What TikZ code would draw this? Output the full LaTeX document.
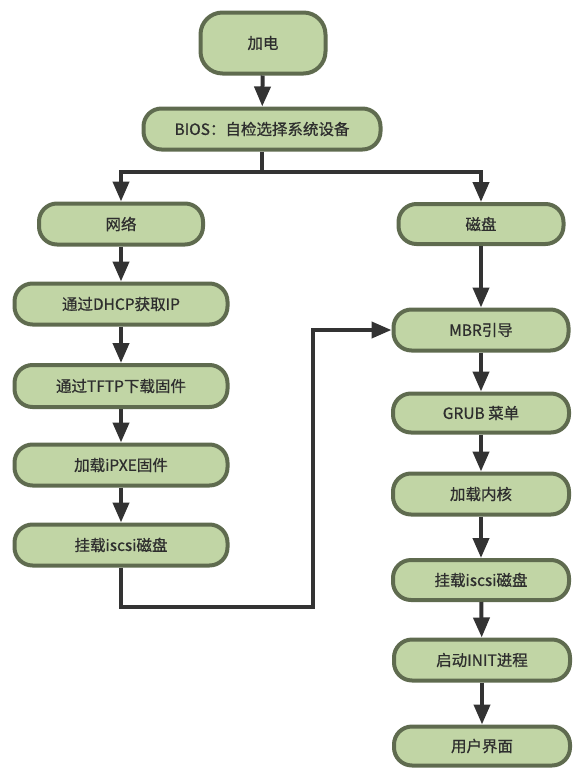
\documentclass[tikz,border=0pt]{standalone}
\usepackage{fontspec}
\setmainfont{Noto Sans CJK SC}
\newfontfamily\boxfont{Noto Sans CJK SC}[FakeBold=0.8]
\usetikzlibrary{arrows.meta}
\definecolor{boxfill}{HTML}{C1D5A5}
\definecolor{boxline}{HTML}{5F6B4F}
\definecolor{arrowc}{HTML}{333333}
\definecolor{textc}{HTML}{2E2E2E}
\tikzset{
  flowbox/.style={draw=boxline, fill=boxfill, line width=4pt, rounded corners=18pt,
    inner sep=0pt, minimum height=41pt, text=textc, font=\boxfont\fontsize{15.5pt}{18pt}\selectfont},
  arr/.style={draw=arrowc, line width=4pt, line join=miter,
    -{Triangle[length=20pt,width=16pt]}},
  plainline/.style={draw=arrowc, line width=4pt, line join=miter}
}
\begin{document}
\begin{tikzpicture}[x=1pt,y=-1pt]
\useasboundingbox (0,0) rectangle (585,780);
% left column and top
\node[flowbox, minimum width=125pt, minimum height=61pt, rounded corners=22pt] (a) at (263,43) {加电};
\node[flowbox, minimum width=237pt] (b) at (262,129) {BIOS：自检选择系统设备};
\node[flowbox, minimum width=164pt] (c) at (121,224) {网络};
\node[flowbox, minimum width=213pt] (d) at (121,304) {通过DHCP获取IP};
\node[flowbox, minimum width=213pt, minimum height=42pt] (e) at (121,386) {通过TFTP下载固件};
\node[flowbox, minimum width=213pt] (f) at (121,465) {加载iPXE固件};
\node[flowbox, minimum width=213pt] (g) at (121,545) {挂载iscsi磁盘};
% right column
\node[flowbox, minimum width=165pt, minimum height=40pt] (h) at (481,224) {磁盘};
\node[flowbox, minimum width=175pt] (i) at (481,330) {MBR引导};
\node[flowbox, minimum width=176pt, minimum height=39pt] (j) at (481,413) {GRUB 菜单};
\node[flowbox, minimum width=176pt] (k) at (481,494) {加载内核};
\node[flowbox, minimum width=176pt, minimum height=40pt] (l) at (481,580) {挂载iscsi磁盘};
\node[flowbox, minimum width=176pt] (m) at (482,660) {启动INIT进程};
\node[flowbox, minimum width=176pt, minimum height=39pt] (n) at (482,746) {用户界面};
% connectors
\coordinate (split) at (262,172);
\coordinate (turn) at (313,607);
\draw[arr] (a) -- (b);
\draw[plainline] (b.south) -- (split);
\draw[arr] (split) -| (c.north);
\draw[arr] (split) -| (h.north);
\draw[arr] (c) -- (d);
\draw[arr] (d) -- (e);
\draw[arr] (e) -- (f);
\draw[arr] (f) -- (g);
\draw[arr] (g.south) |- (turn) |- (i.west);
\draw[arr] (h) -- (i);
\draw[arr] (i) -- (j);
\draw[arr] (j) -- (k);
\draw[arr] (k) -- (l);
\draw[arr] (l) -- (m);
\draw[arr] (m) -- (n);
\end{tikzpicture}
\end{document}
